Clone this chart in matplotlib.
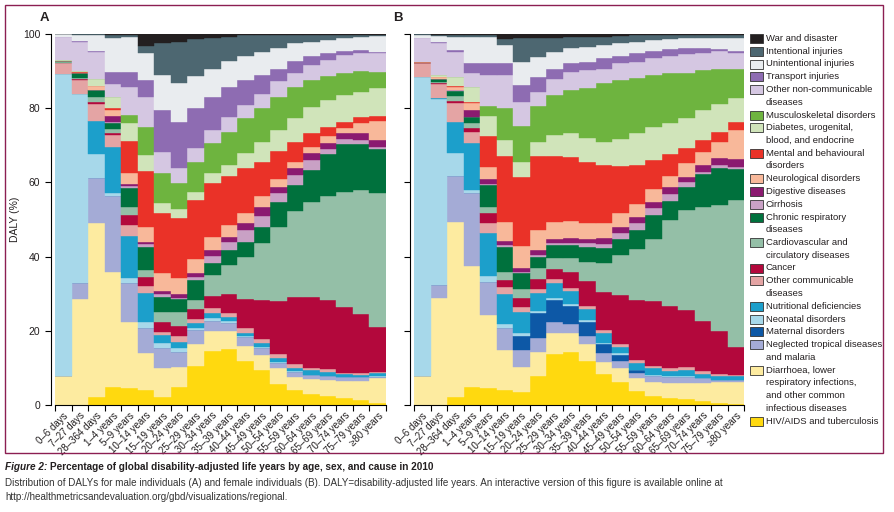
import numpy as np
import matplotlib
matplotlib.use('Agg')
import matplotlib.pyplot as plt
from matplotlib.patches import Rectangle

plt.rcParams['font.family'] = ['Liberation Sans Narrow', 'Liberation Sans', 'DejaVu Sans']

W, H = 894, 512

age_groups = ["0–6 days", "7–27 days", "28–364 days", "1–4 years", "5–9 years",
              "10–14 years", "15–19 years", "20–24 years", "25–29 years", "30–34 years",
              "35–39 years", "40–44 years", "45–49 years", "50–54 years", "55–59 years",
              "60–64 years", "65–69 years", "70–74 years", "75–79 years", "≥80 years"]

# causes listed bottom of the stack -> top
causes = ["HIV/AIDS and tuberculosis",
          "Diarrhoea, lower\nrespiratory infections,\nand other common\ninfectious diseases",
          "Neglected tropical diseases\nand malaria",
          "Maternal disorders",
          "Neonatal disorders",
          "Nutritional deficiencies",
          "Other communicable\ndiseases",
          "Cancer",
          "Cardiovascular and\ncirculatory diseases",
          "Chronic respiratory\ndiseases",
          "Cirrhosis",
          "Digestive diseases",
          "Neurological disorders",
          "Mental and behavioural\ndisorders",
          "Diabetes, urogenital,\nblood, and endocrine",
          "Musculoskeletal disorders",
          "Other non-communicable\ndiseases",
          "Transport injuries",
          "Unintentional injuries",
          "Intentional injuries",
          "War and disaster"]

colors = ["#ffd90f", "#fdeba0", "#a4abd6", "#0d58a6", "#a7d8ea", "#1c9fcb",
          "#e4a4a4", "#b3083c", "#94bfa7", "#00713d", "#c9a1c5", "#8b1a70",
          "#f8b89a", "#ea3228", "#d0e4ba", "#6eb43f", "#d5c7e2", "#8e6cb2",
          "#e9ecef", "#4d6771", "#231f20"]

# ---- male (A): % of DALYs, one value per age group ----
hiv_m = [0, 0, 2.1, 4.8, 4.5, 4.0, 2.2, 4.9, 10.6, 14.6, 15.0, 11.9, 9.3, 5.7, 4.0, 3.0, 2.4, 1.8, 1.3, 0.6]
diarr_m = [7.9, 28.7, 46.9, 31.1, 17.8, 9.9, 7.7, 5.4, 5.8, 5.4, 5.0, 4.0, 4.2, 4.2, 3.6, 3.9, 4.3, 4.8, 5.3, 6.6]
ntd_m = [0, 4.1, 12.1, 20.3, 10.5, 6.8, 5.4, 4.1, 3.8, 2.7, 2.0, 2.3, 1.8, 1.5, 1.4, 1.2, 1.1, 0.9, 0.9, 0.4]
maternal_m = [0] * 20
neonatal_m = [81.3, 51.0, 6.6, 1.0, 1.5, 1.8, 1.3, 0.9, 0.6, 0.7, 0.6, 0.4, 0.3, 0.2, 0.1, 0.1, 0.1, 0.1, 0.1, 0.1]
nutrition_m = [0, 0, 8.8, 12.4, 11.3, 7.6, 2.3, 1.8, 1.2, 1.3, 1.2, 0.9, 1.2, 1.0, 1.0, 1.1, 1.1, 0.8, 0.5, 0.8]
othcomm_m = [2.9, 3.8, 4.6, 3.2, 2.9, 2.0, 0.9, 1.5, 1.1, 1.4, 1.1, 1.2, 0.9, 1.1, 1.0, 0.6, 0.6, 0.3, 0.4, 0.4]
cancer_m = [0.1, 0.3, 0.5, 0.6, 2.7, 2.3, 2.7, 2.7, 2.7, 3.2, 5.0, 7.9, 10.6, 14.4, 17.9, 19.1, 18.7, 17.8, 16.0, 12.2]
cvd_m = [0.2, 0.3, 1.3, 1.1, 2.3, 2.0, 2.7, 3.9, 2.5, 5.7, 7.8, 11.4, 15.3, 20.0, 23.4, 25.8, 27.9, 31.0, 33.4, 36.1]
resp_m = [0.3, 1.3, 2.0, 1.5, 4.9, 6.3, 4.0, 3.3, 5.4, 3.4, 4.1, 4.0, 4.5, 6.7, 6.9, 8.5, 11.5, 12.9, 12.5, 11.7]
cirrh_m = [0, 0, 0, 0.3, 0.6, 0.6, 0.6, 0.4, 0.9, 1.8, 2.2, 3.2, 2.8, 2.3, 2.7, 2.7, 1.2, 1.2, 1.0, 0.7]
digest_m = [0, 0, 0.1, 1.7, 0.7, 0.7, 1.0, 0.9, 1.1, 1.6, 1.4, 1.9, 2.6, 1.7, 1.8, 1.8, 1.6, 1.6, 1.8, 1.8]
neuro_m = [0, 0.1, 1.0, 1.5, 2.7, 4.1, 4.7, 4.3, 3.6, 3.4, 3.1, 2.6, 2.7, 2.0, 1.8, 1.8, 2.0, 1.4, 2.9, 5.2]
mental_m = [0, 0.1, 0.1, 0.5, 8.8, 15.1, 16.3, 16.2, 16.0, 14.7, 13.2, 12.1, 9.4, 7.7, 5.4, 3.6, 2.5, 1.8, 1.6, 1.3]
diab_m = [0.2, 0.3, 1.9, 3.0, 4.9, 4.2, 2.6, 2.4, 2.2, 2.5, 3.0, 4.0, 5.4, 5.6, 6.3, 7.2, 7.2, 7.2, 6.8, 7.5]
msk_m = [0, 0, 0, 0.1, 2.1, 7.6, 8.0, 7.2, 8.1, 8.1, 9.0, 9.5, 9.0, 9.0, 8.5, 7.2, 6.5, 5.8, 5.5, 4.4]
othncd_m = [6.4, 7.9, 7.2, 3.5, 7.4, 8.1, 5.9, 3.9, 3.6, 3.6, 4.0, 3.6, 3.8, 4.1, 3.6, 4.0, 4.3, 4.9, 5.0, 5.0]
transport_m = [0, 0.1, 0.3, 3.2, 4.2, 4.5, 11.2, 12.6, 10.8, 9.0, 7.9, 6.7, 5.1, 3.5, 3.4, 2.5, 1.8, 1.1, 0.7, 0.4]
unint_m = [0.6, 1.6, 4.2, 9.1, 9.5, 7.2, 9.4, 10.5, 8.7, 7.6, 7.1, 6.5, 6.3, 5.6, 4.7, 3.8, 3.6, 3.4, 3.6, 4.3]
intent_m = [0.1, 0.3, 0.2, 0.7, 0.5, 2.0, 8.6, 11.0, 9.9, 8.3, 6.6, 5.5, 4.4, 3.3, 2.1, 1.8, 1.3, 0.9, 0.4, 0.2]
war_m = [0, 0.1, 0.1, 0.4, 0.2, 3.2, 2.5, 2.1, 1.4, 1.0, 0.7, 0.4, 0.4, 0.4, 0.4, 0.3, 0.3, 0.3, 0.3, 0.3]

# ---- female (B) ----
hiv_f = [0, 0, 2.2, 4.9, 4.5, 4.0, 3.6, 7.8, 13.7, 14.4, 11.9, 8.4, 6.3, 3.9, 2.4, 1.8, 1.5, 1.1, 0.6, 0.3]
diarr_f = [7.8, 28.8, 47.2, 32.6, 19.8, 10.8, 6.7, 6.6, 5.6, 4.9, 4.5, 3.3, 3.6, 3.3, 3.9, 4.2, 4.5, 4.9, 5.7, 6.0]
ntd_f = [0, 3.5, 12.3, 19.7, 8.9, 5.9, 4.5, 3.6, 3.0, 2.5, 2.2, 2.2, 2.0, 1.5, 1.5, 1.6, 1.6, 1.2, 0.4, 0.4]
maternal_f = [0, 0, 0, 0, 0, 0, 3.8, 6.7, 6.0, 4.9, 3.9, 2.5, 1.6, 0.6, 0.1, 0, 0, 0, 0, 0]
neonatal_f = [80.7, 50.1, 6.3, 0.7, 1.6, 1.1, 0.7, 0.7, 0.6, 0.5, 0.5, 0.4, 0.4, 0.2, 0.1, 0.1, 0.1, 0.1, 0.1, 0.1]
nutrition_f = [0, 0.3, 8.4, 12.8, 11.5, 8.0, 5.9, 4.7, 4.1, 3.6, 2.8, 2.7, 1.8, 1.7, 1.9, 1.5, 1.6, 1.1, 1.1, 1.0]
othcomm_f = [3.8, 3.9, 4.9, 3.0, 2.8, 1.9, 1.1, 1.3, 1.0, 0.8, 0.9, 0.7, 0.7, 0.9, 0.7, 0.9, 1.0, 0.8, 0.5, 0.4]
cancer_f = [0, 0.2, 0.7, 0.9, 2.6, 2.0, 2.6, 2.6, 2.6, 4.3, 6.7, 10.3, 13.2, 16.2, 17.3, 16.6, 15.3, 13.5, 11.5, 7.5]
cvd_f = [0, 0.3, 1.3, 1.5, 1.8, 2.2, 2.5, 2.8, 2.9, 3.6, 5.2, 7.9, 10.8, 13.7, 16.8, 23.2, 27.0, 30.8, 34.1, 39.6]
resp_f = [0, 0.7, 1.4, 1.4, 5.9, 6.8, 4.3, 3.2, 3.6, 3.6, 4.1, 3.8, 4.3, 5.3, 6.5, 5.2, 6.2, 8.8, 9.8, 8.2]
cirrh_f = [0, 0, 0.1, 0.2, 0.1, 0.3, 0.2, 0.4, 0.5, 0.6, 0.9, 1.2, 1.6, 1.7, 2.0, 1.8, 1.4, 0.6, 0.9, 0.7]
digest_f = [0, 0, 0.1, 1.8, 1.3, 1.2, 0.9, 1.4, 1.1, 1.2, 1.1, 1.5, 1.6, 1.8, 1.6, 1.8, 1.3, 1.8, 1.8, 2.0]
neuro_f = [0, 0.5, 0.7, 2.0, 3.4, 5.2, 6.1, 5.4, 4.7, 4.8, 4.4, 4.1, 3.8, 3.4, 3.3, 3.0, 3.8, 3.6, 4.5, 7.9]
mental_f = [0.2, 0.2, 0.4, 0.3, 8.3, 17.7, 18.6, 19.9, 17.7, 17.2, 16.5, 15.7, 12.7, 10.5, 7.9, 6.0, 3.9, 3.1, 2.7, 2.3]
diab_f = [0, 0.4, 2.5, 4.0, 5.4, 4.3, 4.1, 3.9, 5.7, 6.3, 6.3, 6.3, 7.2, 8.5, 9.0, 8.2, 8.1, 8.1, 7.4, 6.3]
msk_f = [0, 0, 0, 0, 2.7, 8.6, 9.6, 9.6, 10.8, 11.7, 13.5, 15.7, 16.0, 14.9, 14.0, 13.5, 12.3, 10.8, 9.4, 7.8]
othncd_f = [6.3, 8.7, 6.7, 3.6, 8.4, 9.0, 6.6, 3.9, 4.4, 4.9, 4.9, 4.0, 4.5, 4.4, 4.4, 4.7, 5.0, 4.7, 4.8, 4.3]
transport_f = [0, 0.3, 0.6, 2.7, 3.1, 3.1, 4.5, 4.0, 2.7, 2.3, 2.2, 2.7, 2.0, 2.3, 2.0, 1.8, 1.5, 1.1, 0.6, 0.6]
unint_f = [1.0, 1.6, 3.5, 7.2, 7.0, 4.9, 6.2, 5.4, 4.5, 4.0, 4.1, 3.6, 3.4, 3.1, 2.9, 2.7, 2.7, 2.7, 3.0, 3.5]
intent_f = [0.2, 0.3, 0.5, 0.5, 0.7, 1.6, 6.3, 5.0, 3.8, 3.2, 2.6, 2.3, 2.0, 1.8, 1.5, 1.2, 0.9, 0.9, 0.9, 0.9]
war_f = [0, 0.2, 0.2, 0.2, 0.2, 1.4, 1.2, 1.1, 1.0, 0.7, 0.8, 0.7, 0.5, 0.3, 0.2, 0.2, 0.3, 0.3, 0.2, 0.2]

male = [hiv_m, diarr_m, ntd_m, maternal_m, neonatal_m, nutrition_m, othcomm_m, cancer_m,
        cvd_m, resp_m, cirrh_m, digest_m, neuro_m, mental_m, diab_m, msk_m, othncd_m,
        transport_m, unint_m, intent_m, war_m]
female = [hiv_f, diarr_f, ntd_f, maternal_f, neonatal_f, nutrition_f, othcomm_f, cancer_f,
          cvd_f, resp_f, cirrh_f, digest_f, neuro_f, mental_f, diab_f, msk_f, othncd_f,
          transport_f, unint_f, intent_f, war_f]

txt = '#231f20'
fig = plt.figure(figsize=(W / 100, H / 100), dpi=100)
fig.patch.set_facecolor('white')


def px(x0, y0, w, h):
    # pixel box (top-left origin) -> figure fraction rect
    return [x0 / W, 1 - (y0 + h) / H, w / W, h / H]


def draw_panel(ax, shares, ylabels):
    data = np.array(shares, dtype=float)
    data = data / data.sum(axis=0) * 100
    x = np.arange(data.shape[1])
    bottom = np.zeros(data.shape[1])
    for vals, col in zip(data, colors):
        ax.bar(x, vals, width=1.0, bottom=bottom, align='edge', color=col,
               edgecolor=col, linewidth=0.3)
        bottom += vals
    ax.set_xlim(0, len(x))
    ax.set_ylim(0, 100)
    for s in ['top', 'right']:
        ax.spines[s].set_visible(False)
    ax.spines['left'].set_position(('outward', 3))
    ax.spines['left'].set_linewidth(0.8)
    ax.spines['bottom'].set_linewidth(0.8)
    ax.set_xticks(np.arange(len(x) + 1))
    ax.set_xticklabels([])
    ax.set_xticks(x + 0.5, minor=True)
    ax.set_xticklabels(age_groups, minor=True, fontsize=7, color=txt)
    for lab in ax.get_xticklabels(minor=True):
        lab.set_rotation(45)
        lab.set_ha('right')
        lab.set_va('top')
        lab.set_rotation_mode('anchor')
    ax.tick_params(axis='x', which='major', length=4, width=0.8, direction='out')
    ax.tick_params(axis='x', which='minor', length=0, pad=4)
    ax.set_yticks(np.arange(0, 101, 20))
    ax.tick_params(axis='y', length=4, width=0.8, labelsize=7.5, labelcolor=txt)
    if not ylabels:
        ax.set_yticklabels([])


axA = fig.add_axes(px(55, 34, 331, 371))
draw_panel(axA, male, True)
axA.set_ylabel("DALY (%)", fontsize=7.5, color=txt, labelpad=2)

axB = fig.add_axes(px(414, 34, 330, 371))
draw_panel(axB, female, False)

fig.text(40 / W, 1 - 18 / H, "A", fontsize=9.5, fontweight='bold', color=txt, va='center')
fig.text(393 / W, 1 - 18 / H, "B", fontsize=9.5, fontweight='bold', color=txt, va='center')

# legend, drawn top (war) -> bottom (HIV) like the original
line_h = 12.75
y = 38.5
for name, col in zip(causes[::-1], colors[::-1]):
    lines = name.split('\n')
    fig.add_artist(Rectangle((750 / W, 1 - (y + 4.5) / H), 13 / W, 9 / H,
                             transform=fig.transFigure, facecolor=col,
                             edgecolor='#333333', linewidth=0.6))
    for ln in lines:
        fig.text(766 / W, 1 - y / H, ln, fontsize=6.8, color=txt, va='center', ha='left')
        y += line_h

# frame round the figure
fig.add_artist(Rectangle((5 / W, 1 - 453 / H), 878 / W, 448 / H, transform=fig.transFigure,
                         fill=False, edgecolor='#8c1f52', linewidth=1.0))

# caption: italic "Figure 2:" followed by the bold title
renderer = fig.canvas.get_renderer()
t1 = fig.text(5 / W, 1 - 467 / H, "Figure 2:", fontsize=7.2, fontweight='bold',
              fontstyle='italic', color=txt, va='center')
bb = t1.get_window_extent(renderer=renderer)
fig.text((bb.x1 + 3) / W, 1 - 467 / H,
         "Percentage of global disability-adjusted life years by age, sex, and cause in 2010",
         fontsize=7.2, fontweight='bold', color=txt, va='center')
fig.text(5 / W, 1 - 483 / H,
         "Distribution of DALYs for male individuals (A) and female individuals (B). DALY=disability-adjusted life years. "
         "An interactive version of this figure is available online at",
         fontsize=7.1, color='#333333', va='center')
fig.text(5 / W, 1 - 497 / H, "http://healthmetricsandevaluation.org/gbd/visualizations/regional.",
         fontsize=7.1, color='#333333', va='center')

fig.savefig("out.png", dpi=100)
